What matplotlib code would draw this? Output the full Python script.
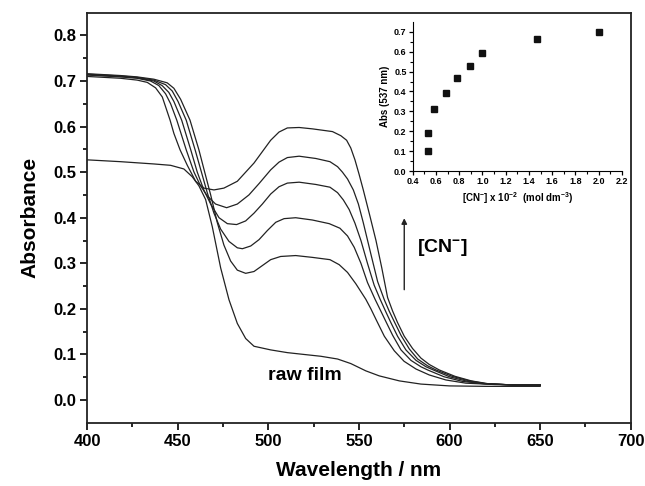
import matplotlib
matplotlib.use("Agg")
import matplotlib.pyplot as plt

plt.rcParams['font.family'] = ['Liberation Sans', 'DejaVu Sans']
plt.rcParams['font.weight'] = 'bold'
plt.rcParams['mathtext.default'] = 'regular'

# raw film spectrum
raw_wl = [400, 418.4, 436.8, 446.1, 453.4, 458.0, 461.7, 465.4, 469.1, 473.7, 478.3,
          482.9, 487.5, 492.1, 501.3, 510.5, 519.7, 529.0, 538.2, 545.5, 553.8,
          561.2, 572.3, 584.2, 599.9, 620, 650]
raw_abs = [0.527, 0.523, 0.518, 0.515, 0.507, 0.49, 0.47, 0.44, 0.38, 0.29, 0.22,
           0.168, 0.135, 0.118, 0.110, 0.104, 0.100, 0.096, 0.090, 0.080, 0.064,
           0.053, 0.042, 0.035, 0.031, 0.030, 0.030]

# spectra after cyanide additions (highest band first)
wl1 = [400, 418.4, 427.6, 433.2, 437.8, 441.5, 445.8, 447.9, 451.3, 455.3, 459.9,
       464.5, 470.0, 475.5, 482.9, 492.1, 496.7, 501.3, 505.9, 510.5, 517.0, 524.3,
       535.4, 540.0, 543.2, 545.5, 547.8, 550.1, 552.4, 556.1, 559.4, 562.6, 565.8,
       568.6, 571.3, 575.0, 579.6, 584.2, 588.8, 594.3, 603, 612, 621, 635, 650]
abs1 = [0.710, 0.706, 0.702, 0.697, 0.685, 0.665, 0.614, 0.585, 0.549, 0.515, 0.48,
        0.465, 0.461, 0.465, 0.48, 0.52, 0.545, 0.57, 0.588, 0.597, 0.598, 0.595,
        0.589, 0.58, 0.57, 0.553, 0.527, 0.495, 0.461, 0.403, 0.35, 0.29, 0.225,
        0.195, 0.17, 0.14, 0.113, 0.092, 0.078, 0.066, 0.052, 0.042, 0.036, 0.033,
        0.033]

wl2 = [400, 418.4, 427.6, 435.0, 439.6, 443.3, 446.1, 449.5, 454.7, 459.0, 462.6,
       466.3, 470.9, 477.0, 482.9, 489.3, 494.9, 501.3, 505.9, 510.5, 517.0, 526.2,
       534.0, 538.2, 540.9, 543.7, 546.9, 549.7, 552.4, 556.6, 560.3, 563.9, 566.7,
       569.5, 573.2, 577.8, 582.4, 587.9, 592.5, 601.5, 611, 620, 635, 650]
abs2 = [0.713, 0.709, 0.706, 0.70, 0.69, 0.672, 0.65, 0.614, 0.549, 0.50, 0.47,
        0.448, 0.43, 0.422, 0.43, 0.45, 0.475, 0.505, 0.522, 0.532, 0.535, 0.53,
        0.523, 0.512, 0.50, 0.485, 0.461, 0.43, 0.389, 0.32, 0.26, 0.221, 0.195,
        0.172, 0.142, 0.112, 0.09, 0.075, 0.066, 0.052, 0.042, 0.036, 0.033, 0.033]

wl3 = [400, 418.4, 427.6, 436.8, 441.4, 445.1, 447.9, 452.2, 457.2, 460.8, 464.5,
       468.2, 472.8, 477.4, 482.5, 487.5, 492.1, 496.7, 501.3, 505.9, 510.5, 517.0,
       526.2, 534.0, 538.2, 541.4, 544.6, 547.8, 551.1, 554.7, 558.4, 561.7, 564.9,
       567.6, 571.3, 575.9, 581.5, 587.0, 591.6, 600, 610, 619, 635, 650]
abs3 = [0.714, 0.71, 0.707, 0.70, 0.69, 0.675, 0.655, 0.614, 0.549, 0.50, 0.46,
        0.43, 0.40, 0.387, 0.385, 0.393, 0.41, 0.43, 0.452, 0.468, 0.476, 0.478,
        0.473, 0.467, 0.455, 0.439, 0.418, 0.388, 0.35, 0.30, 0.252, 0.221, 0.193,
        0.17, 0.14, 0.11, 0.087, 0.073, 0.065, 0.051, 0.041, 0.036, 0.033, 0.033]

wl4 = [400, 418.4, 427.6, 436.8, 443.3, 447.0, 450.2, 454.7, 459.6, 463.1, 466.3,
       470.0, 473.7, 478.3, 482.9, 485.7, 490.3, 494.9, 499.5, 504.1, 508.7, 515.1,
       524.3, 533.6, 539.5, 543.7, 547.4, 551.1, 554.7, 558.9, 562.1, 564.9, 568.6,
       573.2, 578.7, 584.2, 587.9, 597, 607, 618, 635, 650]
abs4 = [0.715, 0.711, 0.708, 0.702, 0.692, 0.678, 0.655, 0.614, 0.549, 0.50, 0.455,
        0.41, 0.375, 0.348, 0.334, 0.332, 0.338, 0.352, 0.372, 0.39, 0.398, 0.40,
        0.395, 0.387, 0.377, 0.36, 0.335, 0.30, 0.258, 0.221, 0.195, 0.172, 0.142,
        0.11, 0.087, 0.073, 0.066, 0.051, 0.041, 0.036, 0.033, 0.033]

wl5 = [400, 418.4, 427.6, 436.8, 444.2, 447.9, 451.6, 456.8, 461.7, 464.9, 468.2,
       471.8, 475.5, 479.2, 482.9, 487.5, 492.1, 496.7, 501.3, 506.8, 515.1, 524.3,
       534.0, 539.1, 543.7, 548.3, 553.8, 556.6, 559.4, 564.0, 569.5, 574.9, 581.5,
       588.8, 598.0, 609, 625, 650]
abs5 = [0.716, 0.712, 0.709, 0.704, 0.696, 0.684, 0.66, 0.614, 0.549, 0.50, 0.45,
        0.39, 0.34, 0.305, 0.285, 0.278, 0.282, 0.295, 0.308, 0.315, 0.317, 0.313,
        0.308, 0.297, 0.28, 0.255, 0.221, 0.2, 0.177, 0.14, 0.108, 0.085, 0.068,
        0.055, 0.044, 0.037, 0.034, 0.032]

# inset: absorbance at 537 nm vs cyanide concentration
cn_conc = [0.53, 0.53, 0.58, 0.69, 0.78, 0.89, 1.0, 1.47, 2.0]
abs537 = [0.10, 0.19, 0.31, 0.39, 0.47, 0.53, 0.595, 0.665, 0.70]

fig = plt.figure(figsize=(6.45, 4.86), dpi=100)
ax = fig.add_axes([0.135, 0.130, 0.843, 0.844])

ax.plot(raw_wl, raw_abs, color='#222222', lw=0.9)
for w, a in [(wl1, abs1), (wl2, abs2), (wl3, abs3), (wl4, abs4), (wl5, abs5)]:
    ax.plot(w, a, color='#222222', lw=0.9)

ax.set_xlim(400, 700)
ax.set_ylim(-0.05, 0.85)
ax.set_xticks(range(400, 701, 50))
ax.set_xticks(range(425, 700, 50), minor=True)
ax.set_yticks([i / 10 for i in range(0, 9)])
ax.set_yticks([0.05 + i / 10 for i in range(0, 8)], minor=True)
ax.tick_params(direction='out', length=5, width=1.2, labelsize=12, pad=3)
ax.tick_params(which='minor', direction='out', length=3, width=1.2)
for s in ax.spines.values():
    s.set_linewidth(1.3)
    s.set_color('#222222')
for lab in ax.get_xticklabels() + ax.get_yticklabels():
    lab.set_fontweight('bold')
ax.set_xlabel('Wavelength / nm', fontsize=15, fontweight='bold', labelpad=9)
ax.set_ylabel('Absorbance', fontsize=15, fontweight='bold', labelpad=10)

ax.text(500, 0.053, 'raw film', fontsize=14, fontweight='bold', va='center')
ax.text(582, 0.334, r'[CN$^{-}$]', fontsize=14, fontweight='bold', va='center')
ax.annotate('', xy=(575, 0.405), xytext=(575, 0.236),
            arrowprops=dict(arrowstyle='-|>', color='#222222', lw=1.0,
                            mutation_scale=8))

ins = fig.add_axes([0.640, 0.648, 0.324, 0.307])
ins.patch.set_alpha(0)
ins.plot(cn_conc, abs537, 's', color='#111111', markersize=4.5)
ins.set_xlim(0.4, 2.2)
ins.set_ylim(0.0, 0.75)
ins.set_xticks([0.4 + 0.2 * i for i in range(10)])
ins.set_xticks([0.5 + 0.2 * i for i in range(9)], minor=True)
ins.set_yticks([0.1 * i for i in range(8)])
ins.set_yticks([0.05 + 0.1 * i for i in range(7)], minor=True)
ins.set_xticklabels(['%.1f' % (0.4 + 0.2 * i) for i in range(10)])
ins.set_yticklabels(['%.1f' % (0.1 * i) for i in range(8)])
ins.spines['top'].set_visible(False)
ins.spines['right'].set_visible(False)
ins.tick_params(direction='out', length=3, width=0.9, labelsize=6.5, pad=1.5)
ins.tick_params(which='minor', direction='out', length=2, width=0.8)
for lab in ins.get_xticklabels() + ins.get_yticklabels():
    lab.set_fontweight('bold')
ins.set_xlabel(r'[CN$^{-}$] x 10$^{-2}$  (mol dm$^{-3}$)', fontsize=7,
               fontweight='bold', labelpad=3)
ins.set_ylabel('Abs (537 nm)', fontsize=7, fontweight='bold', labelpad=3)

fig.savefig('out.png', dpi=100)
